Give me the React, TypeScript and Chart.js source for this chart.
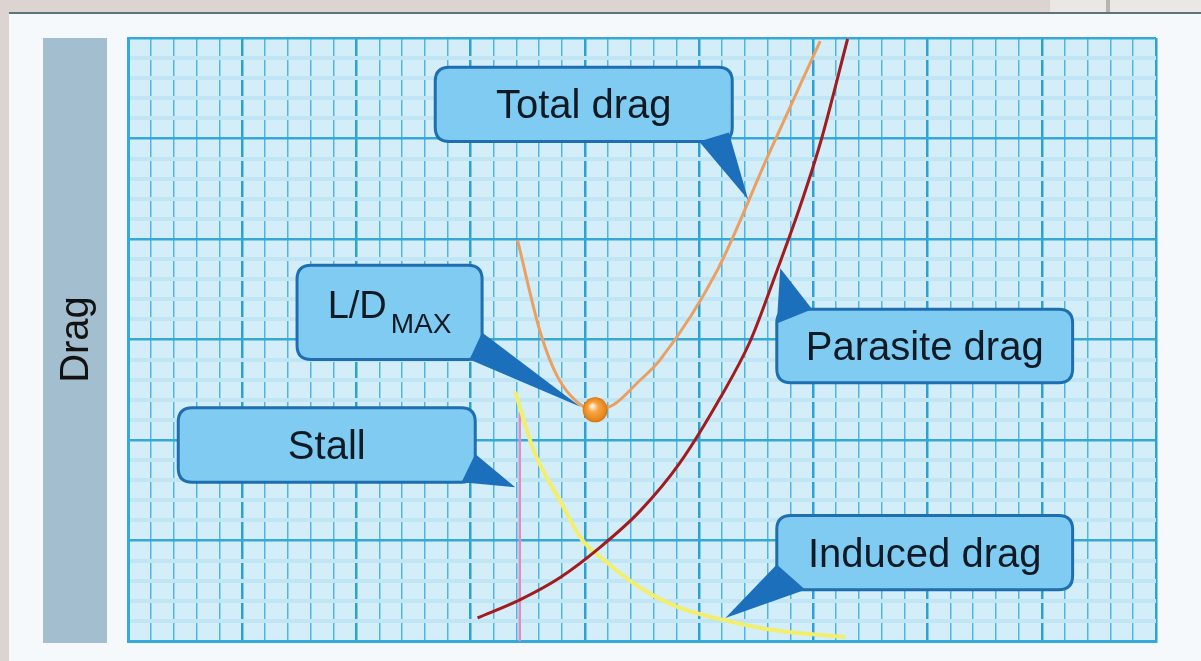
import React, { useEffect, useRef } from "react";
import { Chart, registerables } from "chart.js";

Chart.register(...registerables);

// ---- data (x: airspeed, y: drag; arbitrary grid units) ----
const xRange = [0, 9];
const yRange = [0, 6];

const parasiteX = [3.06, 3.43, 3.78, 4.13, 4.48, 4.83, 5.18, 5.45, 5.68, 5.88, 6.06, 6.3];
const parasiteY = [0.23, 0.41, 0.63, 0.93, 1.29, 1.77, 2.41, 2.99, 3.68, 4.31, 4.95, 5.99];

const totalX = [3.41, 3.61, 3.76, 3.93, 4.09, 4.25, 4.46, 4.66, 5.16, 5.6, 6.06];
const totalY = [3.99, 3.07, 2.63, 2.38, 2.3, 2.35, 2.57, 2.8, 3.69, 4.82, 5.97];

const inducedX = [3.39, 3.55, 3.78, 3.98, 4.13, 4.47, 4.81, 5.21, 5.64, 6.28];
const inducedY = [2.48, 1.9, 1.4, 1.0, 0.84, 0.54, 0.34, 0.21, 0.11, 0.04];

const stallX = [3.43, 3.43];
const stallY = [0, 2.28];

const ldMaxX = [4.09];
const ldMaxY = [2.3];

const axisTitle = "Drag";

// callouts: box [x1, yTop, x2, yBottom], pointer polygon [base1, base2, tip] in data units
const callouts = [
  { text: "Total drag", sub: "", box: [2.69, 5.71, 5.29, 4.97], pointer: [[5.0, 4.97], [5.26, 5.06], [5.43, 4.39]] },
  { text: "L/D", sub: "MAX", box: [1.48, 3.74, 3.1, 2.8], pointer: [[3.1, 3.07], [2.99, 2.8], [3.96, 2.33]] },
  { text: "Parasite drag", sub: "", box: [5.68, 3.3, 8.27, 2.57], pointer: [[5.68, 3.16], [5.99, 3.3], [5.71, 3.71]] },
  { text: "Stall", sub: "", box: [0.44, 2.32, 3.04, 1.58], pointer: [[3.04, 1.86], [2.92, 1.58], [3.39, 1.53]] },
  { text: "Induced drag", sub: "", box: [5.68, 1.25, 8.27, 0.51], pointer: [[5.68, 0.76], [5.93, 0.51], [5.23, 0.23]] },
];

const FONT = '"Liberation Sans", Arial, Helvetica, sans-serif';

function toPts(xs: number[], ys: number[]) {
  return xs.map((x, i) => ({ x, y: ys[i] }));
}

function isMajor(v: number) {
  return Math.abs(v - Math.round(v)) < 1e-6;
}

function roundRectPath(ctx: CanvasRenderingContext2D, x: number, y: number, w: number, h: number, r: number) {
  ctx.beginPath();
  ctx.moveTo(x + r, y);
  ctx.lineTo(x + w - r, y);
  ctx.quadraticCurveTo(x + w, y, x + w, y + r);
  ctx.lineTo(x + w, y + h - r);
  ctx.quadraticCurveTo(x + w, y + h, x + w - r, y + h);
  ctx.lineTo(x + r, y + h);
  ctx.quadraticCurveTo(x, y + h, x, y + h - r);
  ctx.lineTo(x, y + r);
  ctx.quadraticCurveTo(x, y, x + r, y);
  ctx.closePath();
}

const backgroundPlugin = {
  id: "bgPanels",
  beforeDraw(chart: any) {
    const ctx: CanvasRenderingContext2D = chart.ctx;
    const W = chart.width;
    const H = chart.height;
    const a = chart.chartArea;
    ctx.save();
    ctx.fillStyle = "#dcd4d0";
    ctx.fillRect(0, 0, W, H);
    ctx.fillStyle = "#ebe7e5";
    ctx.fillRect(1050, 0, W - 1050, 12);
    ctx.fillStyle = "#b9b3b0";
    ctx.fillRect(1106, 0, 4, 12);
    ctx.fillStyle = "#f5f9fb";
    ctx.fillRect(9, 13, W - 9, H - 13);
    ctx.strokeStyle = "#5e747c";
    ctx.lineWidth = 2;
    ctx.beginPath();
    ctx.moveTo(9, 13);
    ctx.lineTo(W, 13);
    ctx.stroke();
    // axis title bar
    ctx.fillStyle = "#a3bfcf";
    ctx.fillRect(43, a.top, 64, a.bottom - a.top + 2);
    ctx.translate(75, (a.top + a.bottom) / 2);
    ctx.rotate(-Math.PI / 2);
    ctx.fillStyle = "#121212";
    ctx.font = `40px ${FONT}`;
    ctx.textAlign = "center";
    ctx.textBaseline = "middle";
    ctx.fillText(axisTitle, 0, 2);
    ctx.restore();
    // plot background
    ctx.save();
    ctx.fillStyle = "#d3eef9";
    ctx.fillRect(a.left, a.top, a.right - a.left, a.bottom - a.top);
    ctx.restore();
  },
};

const calloutPlugin = {
  id: "callouts",
  afterDatasetsDraw(chart: any) {
    const ctx: CanvasRenderingContext2D = chart.ctx;
    const xs = chart.scales.x;
    const ys = chart.scales.y;
    ctx.save();
    callouts.forEach((c) => {
      const x1 = xs.getPixelForValue(c.box[0]);
      const y1 = ys.getPixelForValue(c.box[1]);
      const x2 = xs.getPixelForValue(c.box[2]);
      const y2 = ys.getPixelForValue(c.box[3]);
      roundRectPath(ctx, x1, y1, x2 - x1, y2 - y1, 14);
      ctx.fillStyle = "#7fcbf1";
      ctx.fill();
      ctx.lineWidth = 3;
      ctx.strokeStyle = "#1f6fb0";
      ctx.stroke();
      // pointer
      ctx.beginPath();
      c.pointer.forEach((p, i) => {
        const px = xs.getPixelForValue(p[0]);
        const py = ys.getPixelForValue(p[1]);
        if (i === 0) ctx.moveTo(px, py);
        else ctx.lineTo(px, py);
      });
      ctx.closePath();
      ctx.fillStyle = "#1c70bb";
      ctx.fill();
      // text
      const cx = (x1 + x2) / 2;
      const cy = (y1 + y2) / 2;
      ctx.fillStyle = "#101a24";
      ctx.textBaseline = "alphabetic";
      if (c.sub) {
        ctx.font = `38px ${FONT}`;
        const w1 = ctx.measureText(c.text).width;
        ctx.font = `28px ${FONT}`;
        const w2 = ctx.measureText(c.sub).width;
        const total = w1 + w2 + 4;
        const sx = cx - total / 2;
        ctx.textAlign = "left";
        ctx.font = `38px ${FONT}`;
        ctx.fillText(c.text, sx, cy + 6);
        ctx.font = `28px ${FONT}`;
        ctx.fillText(c.sub, sx + w1 + 4, cy + 21);
      } else {
        ctx.font = `40px ${FONT}`;
        ctx.textAlign = "center";
        ctx.fillText(c.text, cx, cy + 14);
      }
    });
    // L/D max sphere on top
    const meta = chart.getDatasetMeta(4);
    if (meta && meta.data && meta.data[0]) {
      const el = meta.data[0];
      const r = 12.5;
      const g = ctx.createRadialGradient(el.x - 3, el.y - 4, 1, el.x, el.y, r);
      g.addColorStop(0, "#fff0d8");
      g.addColorStop(0.35, "#f6a648");
      g.addColorStop(0.8, "#ea8a1c");
      g.addColorStop(1, "#d87414");
      ctx.beginPath();
      ctx.arc(el.x, el.y, r, 0, Math.PI * 2);
      ctx.fillStyle = g;
      ctx.fill();
    }
    ctx.restore();
  },
};

export default function App() {
  const ref = useRef<HTMLCanvasElement | null>(null);

  useEffect(() => {
    document.body.style.margin = "0";
    if (!ref.current) return;
    const chart = new Chart(ref.current, {
      type: "line",
      data: {
        datasets: [
          {
            label: "Parasite drag",
            data: toPts(parasiteX, parasiteY),
            borderColor: "#a11b1f",
            borderWidth: 3,
            pointRadius: 0,
            cubicInterpolationMode: "monotone",
            fill: false,
          },
          {
            label: "Total drag",
            data: toPts(totalX, totalY),
            borderColor: "#eba062",
            borderWidth: 3,
            pointRadius: 0,
            cubicInterpolationMode: "monotone",
            fill: false,
          },
          {
            label: "Induced drag",
            data: toPts(inducedX, inducedY),
            borderColor: "#f3ee6c",
            borderWidth: 4,
            pointRadius: 0,
            cubicInterpolationMode: "monotone",
            fill: false,
          },
          {
            label: "Stall",
            data: toPts(stallX, stallY),
            borderColor: "#e38cc2",
            borderWidth: 2.5,
            pointRadius: 0,
            fill: false,
          },
          {
            label: "L/D max",
            data: toPts(ldMaxX, ldMaxY),
            showLine: false,
            pointRadius: 12,
            pointBackgroundColor: "#ee8e22",
            pointBorderWidth: 0,
          },
        ],
      },
      options: {
        responsive: false,
        animation: false,
        devicePixelRatio: 1,
        layout: { padding: { left: 128, top: 38, right: 45, bottom: 20 } },
        plugins: { legend: { display: false }, tooltip: { enabled: false } },
        events: [],
        scales: {
          x: {
            type: "linear",
            min: xRange[0],
            max: xRange[1],
            ticks: { display: false, stepSize: 0.2 },
            grid: {
              drawTicks: false,
              color: (c: any) => (isMajor(c.tick.value) ? "#2aa2d2" : "#4fb7df"),
              lineWidth: (c: any) => (isMajor(c.tick.value) ? 2.5 : 1.5),
            },
            border: { display: true, color: "#35a9d8", width: 3 },
          },
          y: {
            type: "linear",
            min: yRange[0],
            max: yRange[1],
            ticks: { display: false, stepSize: 0.2 },
            grid: {
              drawTicks: false,
              color: (c: any) => (isMajor(c.tick.value) ? "#35a8d6" : "#c0e6f6"),
              lineWidth: (c: any) => (isMajor(c.tick.value) ? 2.5 : 4),
            },
            border: { display: true, color: "#35a9d8", width: 3 },
          },
        },
      },
      plugins: [backgroundPlugin, calloutPlugin],
    } as any);
    return () => chart.destroy();
  }, []);

  return (
    <div style={{ width: 1201, height: 661, position: "relative", overflow: "hidden" }}>
      <canvas ref={ref} width={1201} height={661} style={{ display: "block", width: 1201, height: 661 }} />
    </div>
  );
}
